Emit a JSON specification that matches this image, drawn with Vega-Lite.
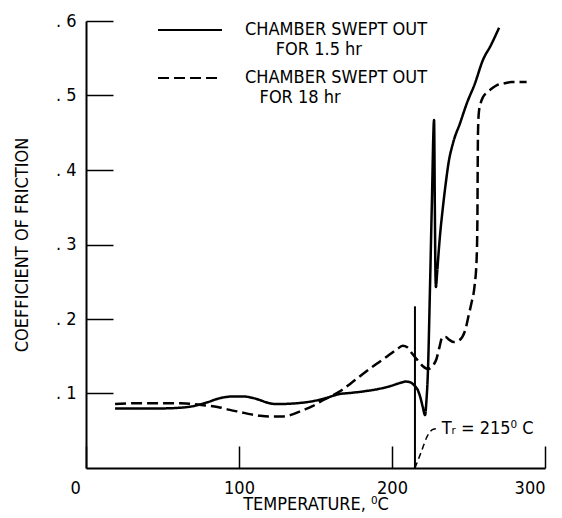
{
  "$schema": "https://vega.github.io/schema/vega-lite/v6.json",
  "width": 459,
  "height": 447,
  "autosize": {"type": "none"},
  "padding": {"left": 86, "top": 21, "right": 17, "bottom": 50},
  "background": "white",
  "config": {
    "view": {"stroke": null},
    "font": "DejaVu Sans Condensed, sans-serif",
    "axis": {"grid": false, "domainColor": "black", "domainWidth": 2, "tickColor": "black", "tickWidth": 1.5, "labelColor": "black", "titleColor": "black", "labelFont": "DejaVu Sans Condensed, sans-serif", "titleFont": "DejaVu Sans Condensed, sans-serif", "titleFontWeight": "normal"}
  },
  "datasets": {
    "curves": [
      {"T": 19, "mu": 0.080, "series": "1.5 hr"},
      {"T": 35, "mu": 0.080, "series": "1.5 hr"},
      {"T": 50, "mu": 0.080, "series": "1.5 hr"},
      {"T": 62, "mu": 0.081, "series": "1.5 hr"},
      {"T": 70, "mu": 0.083, "series": "1.5 hr"},
      {"T": 79, "mu": 0.088, "series": "1.5 hr"},
      {"T": 88, "mu": 0.094, "series": "1.5 hr"},
      {"T": 96, "mu": 0.096, "series": "1.5 hr"},
      {"T": 103, "mu": 0.096, "series": "1.5 hr"},
      {"T": 109, "mu": 0.094, "series": "1.5 hr"},
      {"T": 114, "mu": 0.091, "series": "1.5 hr"},
      {"T": 118, "mu": 0.088, "series": "1.5 hr"},
      {"T": 123, "mu": 0.086, "series": "1.5 hr"},
      {"T": 128, "mu": 0.086, "series": "1.5 hr"},
      {"T": 138, "mu": 0.087, "series": "1.5 hr"},
      {"T": 149, "mu": 0.090, "series": "1.5 hr"},
      {"T": 157, "mu": 0.094, "series": "1.5 hr"},
      {"T": 165, "mu": 0.099, "series": "1.5 hr"},
      {"T": 174, "mu": 0.101, "series": "1.5 hr"},
      {"T": 182, "mu": 0.103, "series": "1.5 hr"},
      {"T": 191, "mu": 0.106, "series": "1.5 hr"},
      {"T": 199, "mu": 0.110, "series": "1.5 hr"},
      {"T": 205, "mu": 0.114, "series": "1.5 hr"},
      {"T": 209, "mu": 0.116, "series": "1.5 hr"},
      {"T": 212, "mu": 0.115, "series": "1.5 hr"},
      {"T": 214.5, "mu": 0.111, "series": "1.5 hr"},
      {"T": 217, "mu": 0.104, "series": "1.5 hr"},
      {"T": 218.5, "mu": 0.095, "series": "1.5 hr"},
      {"T": 220, "mu": 0.083, "series": "1.5 hr"},
      {"T": 221.6, "mu": 0.071, "series": "1.5 hr"},
      {"T": 222.5, "mu": 0.090, "series": "1.5 hr"},
      {"T": 223.5, "mu": 0.131, "series": "1.5 hr"},
      {"T": 224.8, "mu": 0.239, "series": "1.5 hr"},
      {"T": 226, "mu": 0.350, "series": "1.5 hr"},
      {"T": 227.5, "mu": 0.467, "series": "1.5 hr"},
      {"T": 228, "mu": 0.350, "series": "1.5 hr"},
      {"T": 228.4, "mu": 0.260, "series": "1.5 hr"},
      {"T": 228.7, "mu": 0.243, "series": "1.5 hr"},
      {"T": 229.5, "mu": 0.262, "series": "1.5 hr"},
      {"T": 230.5, "mu": 0.290, "series": "1.5 hr"},
      {"T": 231.5, "mu": 0.315, "series": "1.5 hr"},
      {"T": 233, "mu": 0.345, "series": "1.5 hr"},
      {"T": 235, "mu": 0.380, "series": "1.5 hr"},
      {"T": 237, "mu": 0.410, "series": "1.5 hr"},
      {"T": 240, "mu": 0.437, "series": "1.5 hr"},
      {"T": 244.5, "mu": 0.463, "series": "1.5 hr"},
      {"T": 249, "mu": 0.490, "series": "1.5 hr"},
      {"T": 254, "mu": 0.515, "series": "1.5 hr"},
      {"T": 259.5, "mu": 0.548, "series": "1.5 hr"},
      {"T": 264.5, "mu": 0.567, "series": "1.5 hr"},
      {"T": 270, "mu": 0.591, "series": "1.5 hr"},
      {"T": 19, "mu": 0.086, "series": "18 hr"},
      {"T": 35, "mu": 0.087, "series": "18 hr"},
      {"T": 50, "mu": 0.087, "series": "18 hr"},
      {"T": 62, "mu": 0.087, "series": "18 hr"},
      {"T": 70, "mu": 0.086, "series": "18 hr"},
      {"T": 78, "mu": 0.084, "series": "18 hr"},
      {"T": 86, "mu": 0.082, "series": "18 hr"},
      {"T": 94, "mu": 0.078, "series": "18 hr"},
      {"T": 101, "mu": 0.075, "series": "18 hr"},
      {"T": 108, "mu": 0.072, "series": "18 hr"},
      {"T": 114, "mu": 0.070, "series": "18 hr"},
      {"T": 121, "mu": 0.069, "series": "18 hr"},
      {"T": 128, "mu": 0.069, "series": "18 hr"},
      {"T": 135, "mu": 0.072, "series": "18 hr"},
      {"T": 141, "mu": 0.077, "series": "18 hr"},
      {"T": 148, "mu": 0.083, "series": "18 hr"},
      {"T": 154, "mu": 0.090, "series": "18 hr"},
      {"T": 160, "mu": 0.096, "series": "18 hr"},
      {"T": 166, "mu": 0.103, "series": "18 hr"},
      {"T": 174, "mu": 0.115, "series": "18 hr"},
      {"T": 182, "mu": 0.128, "series": "18 hr"},
      {"T": 190, "mu": 0.140, "series": "18 hr"},
      {"T": 197, "mu": 0.150, "series": "18 hr"},
      {"T": 203, "mu": 0.159, "series": "18 hr"},
      {"T": 207, "mu": 0.164, "series": "18 hr"},
      {"T": 210, "mu": 0.162, "series": "18 hr"},
      {"T": 213, "mu": 0.154, "series": "18 hr"},
      {"T": 217, "mu": 0.144, "series": "18 hr"},
      {"T": 220, "mu": 0.137, "series": "18 hr"},
      {"T": 223.5, "mu": 0.133, "series": "18 hr"},
      {"T": 226.5, "mu": 0.137, "series": "18 hr"},
      {"T": 229, "mu": 0.146, "series": "18 hr"},
      {"T": 231, "mu": 0.162, "series": "18 hr"},
      {"T": 233, "mu": 0.176, "series": "18 hr"},
      {"T": 235, "mu": 0.176, "series": "18 hr"},
      {"T": 237.5, "mu": 0.172, "series": "18 hr"},
      {"T": 240.5, "mu": 0.169, "series": "18 hr"},
      {"T": 243.5, "mu": 0.171, "series": "18 hr"},
      {"T": 246, "mu": 0.176, "series": "18 hr"},
      {"T": 248, "mu": 0.186, "series": "18 hr"},
      {"T": 250, "mu": 0.204, "series": "18 hr"},
      {"T": 252, "mu": 0.222, "series": "18 hr"},
      {"T": 254, "mu": 0.245, "series": "18 hr"},
      {"T": 255.3, "mu": 0.280, "series": "18 hr"},
      {"T": 255.8, "mu": 0.330, "series": "18 hr"},
      {"T": 256, "mu": 0.400, "series": "18 hr"},
      {"T": 256.2, "mu": 0.450, "series": "18 hr"},
      {"T": 256.8, "mu": 0.478, "series": "18 hr"},
      {"T": 258, "mu": 0.490, "series": "18 hr"},
      {"T": 259.5, "mu": 0.498, "series": "18 hr"},
      {"T": 262, "mu": 0.504, "series": "18 hr"},
      {"T": 265, "mu": 0.509, "series": "18 hr"},
      {"T": 268.6, "mu": 0.514, "series": "18 hr"},
      {"T": 273, "mu": 0.516, "series": "18 hr"},
      {"T": 278, "mu": 0.518, "series": "18 hr"},
      {"T": 283, "mu": 0.518, "series": "18 hr"},
      {"T": 288, "mu": 0.518, "series": "18 hr"}
    ],
    "trLine": [{"T": 215, "mu": 0, "mu2": 0.217}],
    "leader": [
      {"T": 215, "mu": 0.0},
      {"T": 219, "mu": 0.021},
      {"T": 222.9, "mu": 0.042},
      {"T": 225, "mu": 0.049},
      {"T": 227, "mu": 0.052},
      {"T": 231, "mu": 0.053}
    ],
    "trLabel": [{"T": 232.5, "mu": 0.052, "text": "Tᵣ = 215⁰ C"}]
  },
  "layer": [
    {
      "data": {"name": "curves"},
      "mark": {"type": "line", "color": "black", "strokeWidth": 2.5, "interpolate": "monotone"},
      "encoding": {
        "x": {
          "field": "T", "type": "quantitative",
          "scale": {"domain": [0, 300], "nice": false, "zero": false},
          "axis": {
            "title": "TEMPERATURE, ⁰C",
            "values": [0, 100, 200, 300],
            "tickSize": -22,
            "labelPadding": 33,
            "labelFontSize": 18,
            "labelOffset": {"condition": {"test": "datum.value == 0", "value": -16}, "value": 0},
            "titleFontSize": 18,
            "titlePadding": -2
          }
        },
        "y": {
          "field": "mu", "type": "quantitative",
          "scale": {"domain": [0, 0.6], "nice": false},
          "axis": {
            "title": "COEFFICIENT OF FRICTION",
            "values": [0.1, 0.2, 0.3, 0.4, 0.5, 0.6],
            "labelExpr": "'. ' + format(datum.value * 10, 'd')",
            "tickSize": -27,
            "labelPadding": 37,
            "labelFontSize": 18,
            "titleFontSize": 18,
            "titlePadding": 24
          }
        },
        "strokeDash": {
          "field": "series", "type": "nominal",
          "scale": {"domain": ["1.5 hr", "18 hr"], "range": [[1, 0], [11, 5]]},
          "legend": {
            "title": null,
            "orient": "none",
            "legendX": 95,
            "legendY": 0,
            "symbolType": "M-4,0H4",
            "symbolSize": 256,
            "symbolStrokeWidth": 2,
            "symbolStrokeColor": "black",
            "symbolFillColor": "transparent",
            "labelFontSize": 18,
            "labelColor": "black",
            "labelOffset": 46,
            "labelLimit": 0,
            "labelBaseline": "middle",
            "rowPadding": 10,
            "labelExpr": "datum.value == '1.5 hr' ? ['CHAMBER SWEPT OUT', '\u200b\u2002\u2002\u2002\u2009\u2009FOR 1.5 hr'] : ['CHAMBER SWEPT OUT', '\u200b\u2002\u2009\u2009FOR 18 hr']"
          }
        }
      }
    },
    {
      "data": {"name": "trLine"},
      "mark": {"type": "rule", "color": "black", "strokeWidth": 2},
      "encoding": {
        "x": {"field": "T", "type": "quantitative"},
        "y": {"field": "mu", "type": "quantitative"},
        "y2": {"field": "mu2"}
      }
    },
    {
      "data": {"name": "leader"},
      "mark": {"type": "line", "color": "black", "strokeWidth": 1.5, "strokeDash": [6, 4], "interpolate": "monotone"},
      "encoding": {
        "x": {"field": "T", "type": "quantitative"},
        "y": {"field": "mu", "type": "quantitative"}
      }
    },
    {
      "data": {"name": "trLabel"},
      "mark": {"type": "text", "align": "left", "baseline": "middle", "fontSize": 18, "color": "black"},
      "encoding": {
        "x": {"field": "T", "type": "quantitative"},
        "y": {"field": "mu", "type": "quantitative"},
        "text": {"field": "text"}
      }
    }
  ]
}
